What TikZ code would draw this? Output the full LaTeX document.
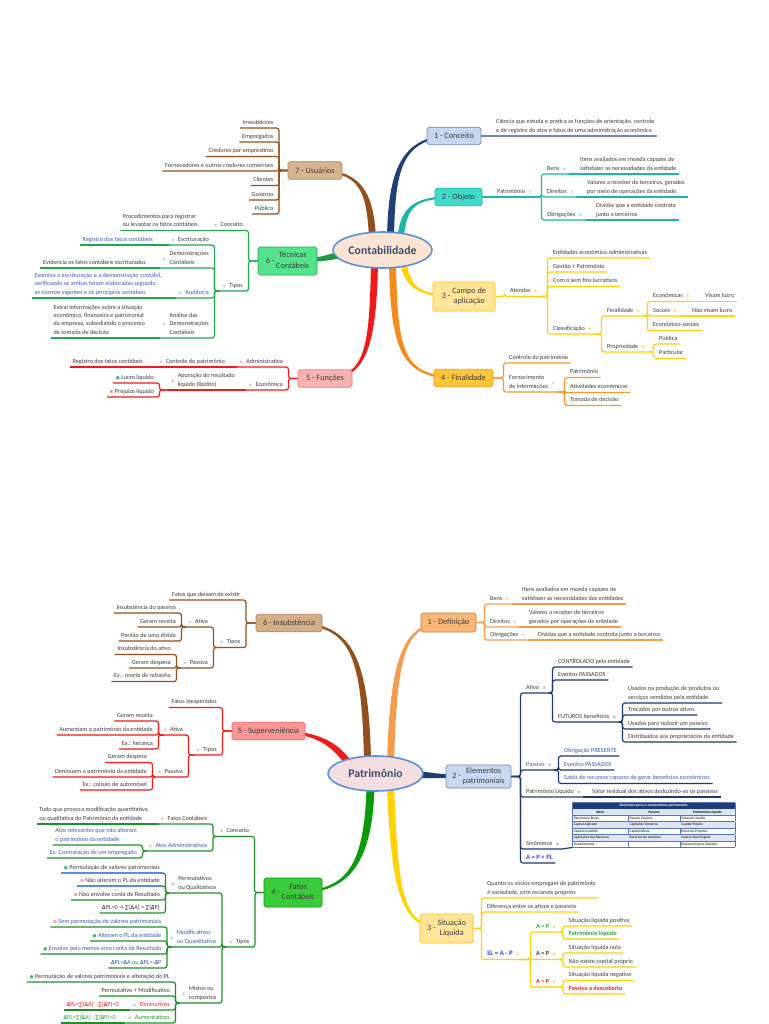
\documentclass[tikz,border=0pt]{standalone}
\usepackage{fontspec}
\setmainfont{Carlito}
\newfontfamily\symf{DejaVu Sans}
\usepackage{colortbl}
\usetikzlibrary{calc,backgrounds,shapes.geometric}
\definecolor{Ink}{HTML}{3A3A3A}
\definecolor{InkBlue}{HTML}{3D5BA9}
\definecolor{HubLine}{HTML}{5B8FD6}
\definecolor{HubFill}{HTML}{FBE3D3}
\definecolor{HubFillB}{HTML}{F3DEDF}
\definecolor{HubInk}{HTML}{3E4E6E}
\definecolor{Navy}{HTML}{1F3F77}
\definecolor{Slate}{HTML}{7189B5}
\definecolor{ConcFill}{HTML}{C7D5EF}
\definecolor{Teal}{HTML}{1DB6A6}
\definecolor{TealFill}{HTML}{3FDCCB}
\definecolor{Sun}{HTML}{FFD200}
\definecolor{SunFill}{HTML}{FFE59A}
\definecolor{Amber}{HTML}{F39A21}
\definecolor{AmberFill}{HTML}{FFC53A}
\definecolor{Scarlet}{HTML}{F01A1A}
\definecolor{RoseFill}{HTML}{F7B2B2}
\definecolor{Leaf}{HTML}{22A84A}
\definecolor{LeafFill}{HTML}{52E38C}
\definecolor{Bark}{HTML}{94501C}
\definecolor{TanFill}{HTML}{D6B48E}
\definecolor{Peach}{HTML}{F59B4C}
\definecolor{PeachFill}{HTML}{F9B777}
\definecolor{Ocean}{HTML}{1F3A6B}
\definecolor{IceFill}{HTML}{C6D9F0}
\definecolor{Moss}{HTML}{1F8F2A}
\definecolor{Grass}{HTML}{0A9A0A}
\definecolor{GrassFill}{HTML}{3ACB3A}
\definecolor{Sky}{HTML}{5B8ED6}
\definecolor{IconOk}{HTML}{3CB878}
\definecolor{IconNo}{HTML}{E8474A}
\definecolor{SumBlue}{HTML}{3B3BE0}
\definecolor{SumGreen}{HTML}{2E9E3E}
\definecolor{SumRed}{HTML}{F02020}
\definecolor{TblHead}{HTML}{1F3A7A}
\definecolor{TblBand}{HTML}{DCE6F5}
\definecolor{TblRule}{HTML}{5775B5}
\newcommand\leaf{\fontsize{6.2}{8.3}\selectfont}
\newcommand\mk[2][0pt]{\raisebox{#1}{\symf\fontsize{4.2}{4.2}\selectfont\textcolor{#2}{◈}}}
\newcommand\mkR[2][0pt]{\hspace{3.5pt}\mk[#1]{#2}}
\newcommand\mkL[2][0pt]{\mk[#1]{#2}\hspace{3.5pt}}
\newcommand\okm{{\symf\fontsize{4.6}{4}\selectfont\textcolor{IconOk}{●}}\hspace{1.5pt}}
\newcommand\nom{{\symf\fontsize{4.6}{4}\selectfont\textcolor{IconNo}{⊗}}\hspace{1.5pt}}
\newcommand\dlt{{\bfseries Δ}}
\newcommand\sm{{\symf\fontsize{5.4}{6}\selectfont ∑}}
\newcommand\imp{{\symf\fontsize{5.4}{6}\selectfont ⇒}}
\newcommand\mlines[1]{\begin{tabular}[b]{@{}l@{}}#1\end{tabular}}
% tapered branch: colour, hub, shift, c1, c2, topic, start offset, end offset
\newcommand\twig[8]{\fill[#1] ($(#2)+#3+#7$) .. controls ($#4+#7$) and ($#5+#8$) .. ($(#6)+#8$) -- ($(#6)-#8$) .. controls ($#5-#8$) and ($#4-#7$) .. ($(#2)+#3-#7$) -- cycle;}
\begin{document}
\begin{tikzpicture}[x=1pt,y=-1pt,
  lf/.style={font=\leaf, text=Ink, inner xsep=2.5pt, inner ysep=1.2pt, align=left, execute at end node={\rule[-2.5pt]{0pt}{1pt}}},
  rl/.style={lf, anchor=south west},
  ll/.style={lf, anchor=south east},
  wire/.style={line width=1.2pt, rounded corners=2.5pt},
  topic/.style={rounded corners=1.8pt, line width=0.7pt, font=\fontsize{8.2}{10.5}\selectfont, text=Ink, inner sep=1pt, minimum height=17.5pt},
  hub/.style={ellipse, line width=1.6pt, draw=HubLine, font=\fontsize{11.8}{13}\selectfont\bfseries, text=HubInk, inner sep=0pt}]
\useasboundingbox (0,0) rectangle (768,1024);

%% ---------------- Contabilidade ----------------
\node[hub, fill=HubFill, minimum width=99pt, minimum height=36pt] (cont) at (382.5,250) {Contabilidade};
\node[topic, draw=Slate, fill=ConcFill, minimum width=54pt] (conc) at (454,136) {1 - Conceito};
\node[topic, draw=Teal, fill=TealFill, minimum width=47pt] (obj) at (458.5,197) {2 - Objeto};
\node[topic, draw=Sun!70!Amber, fill=SunFill, minimum width=62pt, minimum height=29pt] (campo) at (464,296.5) {3 - \begin{tabular}{@{}c@{}}Campo de\\aplicação\end{tabular}};
\node[topic, draw=Amber, fill=AmberFill, minimum width=59pt] (final) at (463.5,378) {4 - Finalidade};
\node[topic, draw=Scarlet!60, fill=RoseFill, minimum width=54pt] (func) at (325,378.5) {5 - Funções};
\node[topic, draw=Leaf, fill=LeafFill, minimum width=59pt, minimum height=28pt] (tec) at (287.5,261) {6 - \begin{tabular}{@{}c@{}}Técnicas\\Contábeis\end{tabular}};
\node[topic, draw=Bark!70, fill=TanFill, minimum width=54pt] (usu) at (315,170.5) {7 - Usuários};

% 1 - Conceito
\node[rl] (cien) at (493.5,136) {Ciência que estuda e pratica as funções de orientação, controle\\e de registro de atos e fatos de uma administração econômica};
% 2 - Objeto
\node[rl] (patr) at (494.5,197) {Patrimônio\mkR{Teal!55}};
\node[rl] (bens) at (544.5,174) {Bens\mkR{Teal!55}};
\node[rl] (itens) at (577.5,174) {Itens avaliados em moeda capazes de\\satisfazer as necessidades da entidade};
\node[rl] (dire) at (544.5,197) {Direitos\mkR{Teal!55}};
\node[rl] (valo) at (584.5,197) {Valores a receber de terceiros, gerados\\por meio de operações da entidade};
\node[rl] (obri) at (544.5,220) {Obrigações\mkR{Teal!55}};
\node[rl] (divi) at (593.5,220) {Dívidas que a entidade contrata\\junto a terceiros};
% 3 - Campo de aplicação
\node[rl] (aten) at (507.5,296.5) {Atendas\mkR{Sun}};
\node[rl] (enti) at (550.5,258) {Entidades econômico-administrativas};
\node[rl] (gest) at (550.5,272) {Gestão + Patrimônio};
\node[rl] (fins) at (550.5,286.5) {Com o sem fins lucrativos};
\node[rl] (clas) at (550.5,334) {Classificação\mkR{Sun}};
\node[rl] (cfin) at (604.5,316) {Finalidade\mkR{Sun}};
\node[rl] (ceco) at (650.5,301.5) {Econômicas\mkR{Sun}};
\node[rl] (cvis) at (702.5,301.5) {Visam lucro};
\node[rl] (csoc) at (650.5,316) {Sociais\mkR{Sun}};
\node[rl] (cnvi) at (689.5,316) {Não visam lucro};
\node[rl] (cecs) at (650.5,330.5) {Econômico-sociais};
\node[rl] (cpro) at (604.5,352) {Propriedade\mkR{Sun}};
\node[rl] (cpub) at (656.5,344) {Pública};
\node[rl] (cpar) at (656.5,358.5) {Particular};
% 4 - Finalidade
\node[rl] (fctl) at (506.5,363) {Controle do patrimônio};
\node[rl] (ffor) at (506.5,392) {\mlines{Fornecimento\\de informações}\mkR[4pt]{Amber!60}};
\node[rl] (fpat) at (567.5,377.5) {Patrimônio};
\node[rl] (fati) at (567.5,392.5) {Atividades econômicas};
\node[rl] (ftom) at (567.5,405.5) {Tomada de decisão};
% 5 - Funções
\node[ll] (adm) at (285.5,367) {\mkL{Scarlet!45}Administrativa};
\node[ll] (cpat) at (227.5,367) {\mkL{Scarlet!45}Controle do patrimônio};
\node[ll] (regf) at (145.5,367) {Registro dos fatos contábeis};
\node[ll] (econ) at (285.5,390) {\mkL{Scarlet!45}Econômica};
\node[ll] (apur) at (237.5,390) {\mkL[4pt]{Scarlet!45}\mlines{Apuração do resultado\\líquido (Rédito)}};
\node[ll] (lucr) at (156.5,383) {\okm Lucro líquido};
\node[ll] (prej) at (156.5,397) {\nom Prejuízo líquido};
% 6 - Técnicas Contábeis
\node[ll] (tcon) at (245.5,230.5) {\mkL{Leaf!50}Conceito};
\node[ll] (tpro) at (200.5,230.5) {Procedimentos para registrar\\ou levantar os fatos contábeis};
\node[ll] (ttip) at (245.5,291) {\mkL{Leaf!50}Tipos};
\node[ll] (tesc) at (211.5,245) {\mkL{Leaf!50}Escrituração};
\node[ll, text=InkBlue] (treg) at (155.5,245) {Registro dos fatos contábeis};
\node[ll] (tdem) at (211.5,268) {\mkL[4pt]{Leaf!50}\mlines{Demonstrações\\Contábeis}};
\node[ll] (tevi) at (148.5,268) {Evidencia os fatos contábeis escriturados};
\node[ll, text=InkBlue] (taud) at (211.5,298) {\mkL{Leaf!50}Auditoria};
\node[ll, text=InkBlue] (texa) at (164.5,298) {Examina a escrituração e a demonstração contábil,\\verificando se ambas foram elaboradas segundo\\as normas vigentes e os princípios contábeis};
\node[ll] (tana) at (211.5,338) {\mkL[8.3pt]{Leaf!50}\mlines{Análise das\\Demonstrações\\Contábeis}};
\node[ll] (textr) at (147.5,338) {Extrai informações sobre a situação\\econômica, financeira e patrimonial\\da empresa, subsidiando o processo\\de tomada de decisão};
% 7 - Usuários
\node[ll] (uinv) at (276,128) {Investidores};
\node[ll] (uemp) at (276,142) {Empregados};
\node[ll] (ucre) at (276,156.5) {Credores por empréstimo};
\node[ll] (ufor) at (276,171) {Fornecedores e outros credores comerciais};
\node[ll] (ucli) at (276,185.5) {Clientes};
\node[ll] (ugov) at (276,200) {Governo};
\node[ll] (upub) at (276,214) {Público};

\draw[wire,Slate] (conc.east) -- (cien.south west) -- (cien.south east);
\draw[wire,Teal] (obj.east) -- (patr.south west) -- (patr.south east);
\foreach \ch in {bens,dire,obri} \draw[wire,Teal] (patr.south east) -| ([xshift=-3pt]\ch.south west) -- (\ch.south east);
\foreach \pa/\ch in {bens/itens,dire/valo,obri/divi} \draw[wire,Teal] (\pa.south east) -- (\ch.south west) -- (\ch.south east);
\draw[wire,Sun] (campo.east) -| ([xshift=-3pt]aten.south west) -- (aten.south east);
\foreach \ch in {enti,gest,fins,clas} \draw[wire,Sun] (aten.south east) -| ([xshift=-3pt]\ch.south west) -- (\ch.south east);
\foreach \ch in {cfin,cpro} \draw[wire,Sun] (clas.south east) -| ([xshift=-3pt]\ch.south west) -- (\ch.south east);
\foreach \ch in {ceco,csoc,cecs} \draw[wire,Sun] (cfin.south east) -| ([xshift=-3pt]\ch.south west) -- (\ch.south east);
\foreach \pa/\ch in {ceco/cvis,csoc/cnvi} \draw[wire,Sun] (\pa.south east) -- (\ch.south west) -- (\ch.south east);
\foreach \ch in {cpub,cpar} \draw[wire,Sun] (cpro.south east) -| ([xshift=-3pt]\ch.south west) -- (\ch.south east);
\foreach \ch in {fctl,ffor} \draw[wire,Amber] (final.east) -| ([xshift=-3pt]\ch.south west) -- (\ch.south east);
\foreach \ch in {fpat,fati,ftom} \draw[wire,Amber] (ffor.south east) -| ([xshift=-3pt]\ch.south west) -- (\ch.south east);
\foreach \ch in {adm,econ} \draw[wire,Scarlet] (func.west) -| ([xshift=3pt]\ch.south east) -- (\ch.south west);
\draw[wire,Scarlet] (adm.south west) -- (cpat.south east) -- (cpat.south west) -- (regf.south east) -- (regf.south west);
\draw[wire,Scarlet] (econ.south west) -- (apur.south east) -- (apur.south west);
\foreach \ch in {lucr,prej} \draw[wire,Scarlet] (apur.south west) -| ([xshift=3pt]\ch.south east) -- (\ch.south west);
\foreach \ch in {tcon,ttip} \draw[wire,Leaf] (tec.west) -| ([xshift=3pt]\ch.south east) -- (\ch.south west);
\draw[wire,Leaf] (tcon.south west) -- (tpro.south east) -- (tpro.south west);
\foreach \ch in {tesc,tdem,taud,tana} \draw[wire,Leaf] (ttip.south west) -| ([xshift=3pt]\ch.south east) -- (\ch.south west);
\foreach \pa/\ch in {tesc/treg,tdem/tevi,taud/texa,tana/textr} \draw[wire,Leaf] (\pa.south west) -- (\ch.south east) -- (\ch.south west);
\foreach \ch in {uinv,uemp,ucre,ufor,ucli,ugov,upub} \draw[wire,Bark] (usu.west) -| ([xshift=3pt]\ch.south east) -- (\ch.south west);

%% ---------------- Patrimônio ----------------
\node[hub, fill=HubFillB, minimum width=95pt, minimum height=35pt] (patm) at (375.5,773.5) {Patrimônio};
\node[topic, draw=Peach!85!black, fill=PeachFill, minimum width=55pt, minimum height=19pt] (defi) at (448.5,622.5) {1 - Definição};
\node[topic, draw=Ocean!60, fill=IceFill, minimum width=65pt, minimum height=23pt] (elem) at (478.5,776.5) {2 - \begin{tabular}{@{}c@{}}Elementos\\patrimoniais\end{tabular}};
\node[topic, draw=Sun!70!Amber, fill=SunFill, minimum width=53pt, minimum height=29pt] (situ) at (446.5,928.5) {3 - \begin{tabular}{@{}c@{}}Situação\\Líquida\end{tabular}};
\node[topic, draw=Grass, fill=GrassFill, minimum width=58pt, minimum height=29pt] (fato) at (293,892.5) {4 - \begin{tabular}{@{}c@{}}Fatos\\Contábeis\end{tabular}};
\node[topic, draw=Scarlet!70, fill=RoseFill!85!red, minimum width=73pt] (supe) at (268.5,731) {5 - Superveniência};
\node[topic, draw=Bark!70, fill=TanFill!90!brown, minimum width=66pt] (insu) at (289,623) {6 - Insubstência};

% 1 - Definição
\node[rl] (dben) at (487.5,604) {Bens\mkR{Peach!60}};
\node[rl] (ditn) at (519.5,604) {Itens avaliados em moeda capazes de\\satisfazer as necessidades das entidades};
\node[rl] (ddir) at (487.5,627) {Direitos\mkR{Peach!60}};
\node[rl] (dval) at (526.5,627) {Valores a receber de terceiros\\gerados por operações da entidade};
\node[rl] (dobr) at (487.5,640) {Obrigações\mkR{Peach!60}};
\node[rl] (ddiv) at (535.5,640) {Dívidas que a entidade contrata junto a terceiros};
% 2 - Elementos patrimoniais
\node[rl] (eati) at (523.5,693) {Ativo\mkR{Ocean!50}};
\node[rl] (ectr) at (555.5,667) {CONTROLADO pela entidade};
\node[rl] (eevp) at (555.5,680) {Eventos PASSADOS};
\node[rl] (efut) at (555.5,722) {FUTUROS benefícios\mkR{Ocean!50}};
\node[rl] (eus1) at (625.5,703) {Usados na produção de produtos ou\\serviços vendidos pela entidade};
\node[rl] (etro) at (625.5,715) {Trocados por outros ativos};
\node[rl] (eus2) at (625.5,729) {Usados para reduzir um passivo};
\node[rl] (edis) at (625.5,742) {Distribuídos aos proprietários da entidade};
\node[rl, text=InkBlue] (epas) at (523.5,770) {Passivo\mkR{Ocean!50}};
\node[rl, text=InkBlue] (eobr) at (561.5,756) {Obrigação PRESENTE};
\node[rl, text=InkBlue] (eev2) at (561.5,770) {Eventos PASSADOS};
\node[rl, text=InkBlue] (esai) at (561.5,783.5) {Saída de recursos capazes de gerar benefícios econômicos};
\node[rl] (epl) at (523.5,797) {Patrimônio Líquido\mkR{Ocean!50}};
\node[rl] (eres) at (589.5,797) {Valor residual dos ativos deduzindo-se os passivos};
\node[rl] (esin) at (523.5,849) {Sinônimos\mkR{Ocean!50}};
\node[anchor=south west, inner sep=0pt] (etab) at (572,847.5) {\fontsize{3.6}{6}\selectfont\setlength\tabcolsep{1.2pt}\arrayrulecolor{TblRule}%
\begin{tabular}{|p{53pt}|p{49pt}|p{52pt}|}\hline
\multicolumn{3}{|c|}{\cellcolor{TblHead}\textcolor{white}{\bfseries\itshape Sinônimos para os componentes patrimoniais}}\\\hline
\rowcolor{TblBand}\multicolumn{1}{|c|}{\bfseries Ativo}&\multicolumn{1}{c|}{\bfseries Passivo}&\multicolumn{1}{c|}{\bfseries Patrimônio Líquido}\\\hline
Patrimônio Bruto&Passivo Exigível&Situação Líquida\\\hline
\rowcolor{TblBand}Capital Aplicado&Capital de Terceiros&Capital Próprio\\\hline
Capital Investido&Capital Alheio&Recursos Próprios\\\hline
\rowcolor{TblBand}Aplicações dos Recursos&Recursos de terceiros&Passivo Não Exigível\\\hline
Investimentos&&Riqueza Própria (líquida)\\\hline
\end{tabular}};
\node[rl, text=SumBlue, font=\fontsize{6.6}{8}\selectfont\bfseries] (eapl) at (523.5,863) {A = P + PL};
% 3 - Situação Líquida
\node[rl] (squa) at (484.5,898) {Quanto os sócios empregam de patrimônio\\à sociedade, com recursos próprios};
\node[rl] (sdif) at (484.5,912) {Diferença entre os ativos e passivos};
\node[rl, text=SumBlue, font=\fontsize{6.8}{8}\selectfont\bfseries] (ssla) at (484.5,959.5) {SL = A - P\mkR{Sun}};
\node[rl, text=SumGreen, font=\leaf\bfseries] (sagt) at (533.5,932) {A > P\mkR{Sun}};
\node[rl, font=\leaf\bfseries] (saeq) at (533.5,959.5) {A = P\mkR{Sun}};
\node[rl, text=SumRed, font=\leaf\bfseries] (salt) at (533.5,987) {A < P\mkR{Sun}};
\node[rl] (spos) at (566,926) {Situação líquida positiva};
\node[rl, text=SumGreen, font=\leaf\bfseries] (splq) at (566,939) {Patrimônio líquido};
\node[rl] (snul) at (566,953) {Situação líquida nula};
\node[rl] (snao) at (566,967) {Não existe capital próprio};
\node[rl] (sneg) at (566,980.5) {Situação líquida negativa};
\node[rl, text=SumRed, font=\leaf\bfseries] (sdes) at (566,994) {Passivo a descoberto};
% 4 - Fatos Contábeis
\node[ll] (acon) at (251.5,836.5) {\mkL{Moss!50}Conceito};
\node[ll] (afc) at (210,824) {\mkL{Moss!50}Fatos Contábeis};
\node[ll] (atud) at (150.5,824) {Tudo que provoca modificação quantitativa\\ou qualitativa do Patrimônio da entidade};
\node[ll, text=InkBlue] (aadm) at (210,851) {\mkL{Moss!50}Atos Administrativos};
\node[ll, text=InkBlue] (arel) at (139.5,845) {Atos relevantes que não alteram\\o patrimônio da entidade};
\node[ll, text=InkBlue] (aex) at (139.5,858) {Ex. Contratação de um empregado};
\node[ll] (atip) at (252,947) {\mkL{Moss!50}Tipos};
\node[ll] (aper) at (219,893) {\mkL[4pt]{Moss!50}\mlines{Permutativos\\ou Qualitativos}};
\node[ll] (ap1) at (162.5,873) {\okm Permutação de valores patrimoniais};
\node[ll] (ap2) at (162.5,886) {\nom Não alteram o PL da entidade};
\node[ll] (ap3) at (162.5,900) {\nom Não envolve conta de Resultado};
\node[ll] (ap4) at (162.5,913) {\dlt PL=0 \imp{} \sm(\dlt A) = \sm(\dlt P)};
\node[ll, text=InkBlue] (amod) at (219,947) {\mkL[4pt]{Moss!50}\mlines{Modificativos\\ou Quantitativo}};
\node[ll, text=InkBlue] (am1) at (164,927) {\nom Sem permutação de valores patrimoniais};
\node[ll, text=InkBlue] (am2) at (164,941) {\okm Alteram o PL da entidade};
\node[ll, text=InkBlue] (am3) at (164,954) {\okm Envolve pelo menos uma conta de Resultado};
\node[ll, text=InkBlue] (am4) at (164,968) {\dlt PL=\dlt A ou \dlt PL=-\dlt P};
\node[ll] (amis) at (219,1003) {\mkL[4pt]{Moss!50}\mlines{Mistos ou\\compostos}};
\node[ll] (ax1) at (172.5,982) {\okm Permutação de valores patrimoniais e alteração do PL};
\node[ll] (ax2) at (172.5,996) {Permutativo + Modificativo};
\node[ll, text=SumRed] (ax3) at (172.5,1010) {\mkL{Moss!50}Diminutivos};
\node[ll, text=SumRed] (ax3a) at (121.5,1010) {\dlt PL=\sm(\dlt A) - \sm(\dlt P)<0};
\node[ll, text=Moss] (ax4) at (172.5,1023) {\mkL{Moss!50}Aumentativos};
\node[ll, text=SumGreen] (ax4a) at (118.5,1023) {\dlt PL=\sm(\dlt A) - \sm(\dlt P)>0};
% 5 - Superveniência
\node[ll] (vfat) at (219.5,707.5) {Fatos inesperados};
\node[ll] (vtip) at (219.5,755) {\mkL{Scarlet!45}Tipos};
\node[ll] (vati) at (185.5,735) {\mkL{Scarlet!45}Ativa};
\node[ll] (va1) at (155.5,721) {Geram receita};
\node[ll] (va2) at (155.5,735) {Aumentam o patrimônio da entidade};
\node[ll] (va3) at (155.5,749) {Ex.: herança};
\node[ll] (vpas) at (185.5,777) {\mkL{Scarlet!45}Passiva};
\node[ll] (vp1) at (149.5,762.5) {Geram despesa};
\node[ll] (vp2) at (149.5,777) {Diminuem o patrimônio da entidade};
\node[ll] (vp3) at (149.5,790) {Ex.: colisão de automóvel};
% 6 - Insubstência
\node[ll] (ifat) at (243,600) {Fatos que deixam de existir};
\node[ll] (itip) at (243,647.5) {\mkL{Bark!45}Tipos};
\node[ll] (iati) at (210.5,627) {\mkL{Bark!45}Ativa};
\node[ll] (ia1) at (178.5,613) {Insubstência do passivo};
\node[ll] (ia2) at (178.5,627) {Geram receita};
\node[ll] (ia3) at (178.5,641) {Perdão de uma dívida};
\node[ll] (ipas) at (210.5,668) {\mkL{Bark!45}Passiva};
\node[ll] (ip1) at (173.5,654.5) {Insubstência do ativo};
\node[ll] (ip2) at (173.5,668) {Geram despesa};
\node[ll] (ip3) at (173.5,681.5) {Ex.: morte de rebanho};

\foreach \ch in {dben,ddir,dobr} \draw[wire,Peach] (defi.east) -| ([xshift=-3pt]\ch.south west) -- (\ch.south east);
\foreach \pa/\ch in {dben/ditn,ddir/dval,dobr/ddiv} \draw[wire,Peach] (\pa.south east) -- (\ch.south west) -- (\ch.south east);
\foreach \ch in {eati,epas,epl,esin,eapl} \draw[wire,Ocean] (elem.east) -| ([xshift=-3pt]\ch.south west) -- (\ch.south east);
\foreach \ch in {ectr,eevp,efut} \draw[wire,Ocean] (eati.south east) -| ([xshift=-3pt]\ch.south west) -- (\ch.south east);
\foreach \ch in {eus1,etro,eus2,edis} \draw[wire,Ocean] (efut.south east) -| ([xshift=-3pt]\ch.south west) -- (\ch.south east);
\foreach \ch in {eobr,eev2,esai} \draw[wire,Ocean] (epas.south east) -| ([xshift=-3pt]\ch.south west) -- (\ch.south east);
\draw[wire,Ocean] (epl.south east) -- (eres.south west) -- (eres.south east);
\draw[wire,Ocean] (esin.south east) -- (etab.south west);
\foreach \ch in {squa,sdif,ssla} \draw[wire,Sun] (situ.east) -| ([xshift=-3pt]\ch.south west) -- (\ch.south east);
\foreach \ch in {sagt,saeq,salt} \draw[wire,Sun] (ssla.south east) -| ([xshift=-3pt]\ch.south west) -- (\ch.south east);
\foreach \pa/\ch in {sagt/spos,sagt/splq,saeq/snul,saeq/snao,salt/sneg,salt/sdes} \draw[wire,Sun] (\pa.south east) -| ([xshift=-3pt]\ch.south west) -- (\ch.south east);
\foreach \ch in {acon,atip} \draw[wire,Moss] (fato.west) -| ([xshift=3pt]\ch.south east) -- (\ch.south west);
\foreach \ch in {afc,aadm} \draw[wire,Moss] (acon.south west) -| ([xshift=3pt]\ch.south east) -- (\ch.south west);
\draw[wire,Moss] (afc.south west) -- (atud.south east) -- (atud.south west);
\foreach \ch in {arel,aex} \draw[wire,Moss] (aadm.south west) -| ([xshift=3pt]\ch.south east) -- (\ch.south west);
\foreach \ch in {aper,amod,amis} \draw[wire,Moss] (atip.south west) -| ([xshift=3pt]\ch.south east) -- (\ch.south west);
\foreach \ch in {ap1,ap2,ap3,ap4} \draw[wire,Moss] (aper.south west) -| ([xshift=3pt]\ch.south east) -- (\ch.south west);
\foreach \ch in {ap1,ap2} \draw[wire,Sky] (\ch.south east) -- (\ch.south west);
\foreach \ch in {am1,am2,am3,am4} \draw[wire,Moss] (amod.south west) -| ([xshift=3pt]\ch.south east) -- (\ch.south west);
\foreach \ch in {ax1,ax2,ax3,ax4} \draw[wire,Moss] (amis.south west) -| ([xshift=3pt]\ch.south east) -- (\ch.south west);
\foreach \pa/\ch in {ax3/ax3a,ax4/ax4a} \draw[wire,Moss] (\pa.south west) -- (\ch.south east) -- (\ch.south west);
\foreach \ch in {vfat,vtip} \draw[wire,Scarlet] (supe.west) -| ([xshift=3pt]\ch.south east) -- (\ch.south west);
\foreach \ch in {vati,vpas} \draw[wire,Scarlet] (vtip.south west) -| ([xshift=3pt]\ch.south east) -- (\ch.south west);
\foreach \ch in {va1,va2,va3} \draw[wire,Scarlet] (vati.south west) -| ([xshift=3pt]\ch.south east) -- (\ch.south west);
\foreach \ch in {vp1,vp2,vp3} \draw[wire,Scarlet] (vpas.south west) -| ([xshift=3pt]\ch.south east) -- (\ch.south west);
\foreach \ch in {ifat,itip} \draw[wire,Bark] (insu.west) -| ([xshift=3pt]\ch.south east) -- (\ch.south west);
\foreach \ch in {iati,ipas} \draw[wire,Bark] (itip.south west) -| ([xshift=3pt]\ch.south east) -- (\ch.south west);
\foreach \ch in {ia1,ia2,ia3} \draw[wire,Bark] (iati.south west) -| ([xshift=3pt]\ch.south east) -- (\ch.south west);
\foreach \ch in {ip1,ip2,ip3} \draw[wire,Bark] (ipas.south west) -| ([xshift=3pt]\ch.south east) -- (\ch.south west);

%% tapered branches from the hubs
\begin{scope}[on background layer]
\fill[white] (0,0) rectangle (768,1024);
\twig{Navy}{cont}{(8,-14)}{(392,172)}{(400,136)}{conc}{(3.5,0)}{(0,1.2)}
\twig{Teal}{cont}{(18,-12)}{(404,205)}{(415,197)}{obj}{(3.2,0)}{(0,1.2)}
\twig{Sun}{cont}{(20,10)}{(408,290)}{(420,296.5)}{campo}{(3.2,0)}{(0,-1.2)}
\twig{Amber!90!red}{cont}{(10,12)}{(394,360)}{(405,378)}{final}{(3.5,0)}{(0,-1.2)}
\twig{Scarlet}{cont}{(-8,12)}{(373,350)}{(365,378.5)}{func}{(3.5,0)}{(0,1.2)}
\twig{Leaf!90!black}{cont}{(-30,2)}{(335,255)}{(325,261)}{tec}{(0,4)}{(0,1.5)}
\twig{Bark}{cont}{(-10,-12)}{(370,190)}{(360,170.5)}{usu}{(3.5,0)}{(0,-1.2)}
\twig{Peach}{patm}{(15,-12)}{(394,650)}{(405,622.5)}{defi}{(3.5,0)}{(0,1.2)}
\twig{Ocean}{patm}{(30,0)}{(425,775)}{(435,776.5)}{elem}{(0,4)}{(0,1.2)}
\twig{Sun}{patm}{(15,12)}{(395,900)}{(403,928.5)}{situ}{(3.5,0)}{(0,-1.2)}
\twig{Grass}{patm}{(-5,14)}{(368,870)}{(345,892.5)}{fato}{(4,0)}{(0,1.2)}
\twig{Scarlet}{patm}{(-25,-8)}{(335,745)}{(320,731)}{supe}{(2.5,-2.5)}{(0,-1.2)}
\twig{Bark}{patm}{(-8,-14)}{(365,650)}{(350,623)}{insu}{(3.5,0)}{(0,-1.2)}
\end{scope}
\end{tikzpicture}
\end{document}
